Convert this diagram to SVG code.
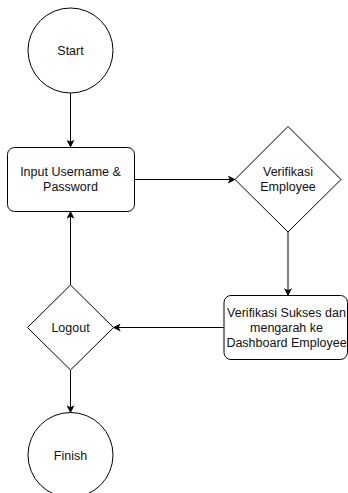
<svg xmlns="http://www.w3.org/2000/svg" width="348" height="493" viewBox="0 0 348 493">
<defs>
<marker id="arr" viewBox="0 0 10 10" refX="9" refY="5" markerWidth="8" markerHeight="8" markerUnits="userSpaceOnUse" orient="auto">
<path d="M0,0 L10,5 L0,10 L2.5,5 Z" fill="#000"/>
</marker>
</defs>
<style>
.s{fill:#fff;stroke:#000;stroke-width:1}
.t{font-family:"Liberation Sans",Arial,sans-serif;font-size:12.5px;fill:#111;text-anchor:middle;dominant-baseline:central}
.c{fill:none;stroke:#000;stroke-width:1;marker-end:url(#arr)}
</style>
<rect width="348" height="493" fill="#fff"/>
<g id="connectors">
<path class="c" d="M70.5,93 L70.5,147"/>
<path class="c" d="M134.5,179.5 L235,179.5"/>
<path class="c" d="M288,232 L288,295.5"/>
<path class="c" d="M224,327.5 L113.5,327.5"/>
<path class="c" d="M70.5,285 L70.5,211.5"/>
<path class="c" d="M70.5,370 L70.5,412.5"/>
</g>
<g id="start">
<circle class="s" cx="70.5" cy="50.5" r="42.5"/>
<text class="t" x="70.5" y="51">Start</text>
</g>
<g id="input">
<rect class="s" x="7.5" y="147.5" width="127" height="64" rx="7"/>
<text class="t" x="70.5" y="171.5">Input Username &amp;</text>
<text class="t" x="70.5" y="186.5">Password</text>
</g>
<g id="verifikasi">
<path class="s" d="M288,126.5 L341,179.5 L288,232 L235,179.5 Z"/>
<text class="t" x="288" y="171.5">Verifikasi</text>
<text class="t" x="288" y="186.5">Employee</text>
</g>
<g id="sukses">
<rect class="s" x="224" y="295.5" width="123.5" height="64" rx="7"/>
<text class="t" x="286.5" y="313">Verifikasi Sukses dan</text>
<text class="t" x="286.5" y="328">mengarah ke</text>
<text class="t" x="286.5" y="343">Dashboard Employee</text>
</g>
<g id="logout">
<path class="s" d="M70.5,285 L113.5,327.5 L70.5,370 L27.5,327.5 Z"/>
<text class="t" x="70.5" y="328">Logout</text>
</g>
<g id="finish">
<circle class="s" cx="70.5" cy="455" r="42.5"/>
<text class="t" x="70.5" y="455.5">Finish</text>
</g>
</svg>
